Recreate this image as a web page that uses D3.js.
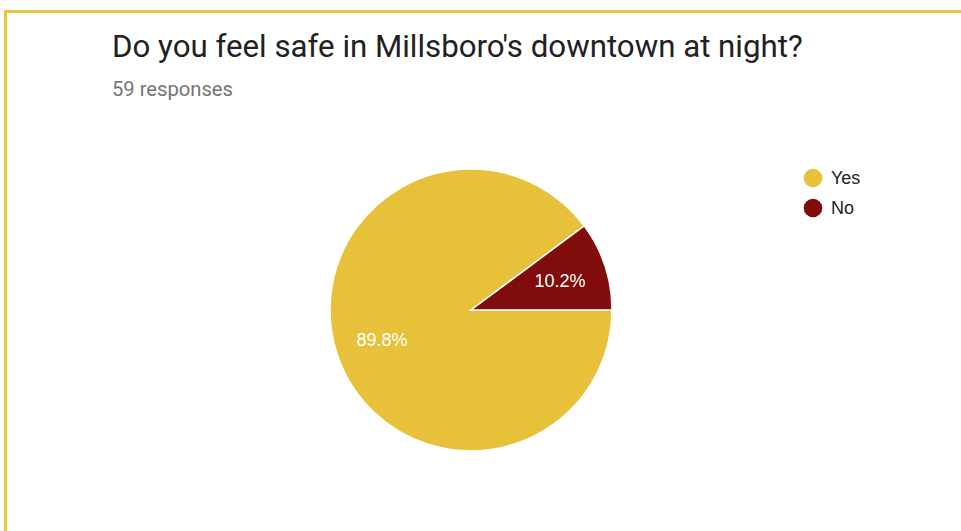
<!DOCTYPE html>
<html><head><meta charset="utf-8">
<script src="https://cdn.jsdelivr.net/npm/d3@7"></script>
<style>html,body{margin:0;padding:0;background:#fff;} svg{display:block;}</style>
</head><body>
<script>
const categories = ["Yes", "No"];
const values = [53, 6];
const colors = ["#e8c13a", "#800c0c"];
const title = "Do you feel safe in Millsboro's downtown at night?";
const subtitle = "59 responses";

const W = 961, H = 531;
const svg = d3.select("body").append("svg").attr("width", W).attr("height", H);
svg.append("rect").attr("width", W).attr("height", H).attr("fill", "#fff");

// yellow frame (top and left visible)
svg.append("rect").attr("x", 5.5).attr("y", 11.5).attr("width", W + 20).attr("height", H + 20)
  .attr("fill", "none").attr("stroke", "#edc43e").attr("stroke-width", 3);

const t = svg.append("text").attr("x", 112).attr("y", 57)
  .attr("font-family", "Roboto, sans-serif").attr("font-size", 27).attr("fill", "#212121").text(title);
const tw = t.node().getComputedTextLength();
t.attr("font-size", 27 * 691 / tw);

const s = svg.append("text").attr("x", 112).attr("y", 96)
  .attr("font-family", "Roboto, sans-serif").attr("font-size", 18).attr("fill", "#757575").text(subtitle);
const sw = s.node().getComputedTextLength();
s.attr("font-size", 18 * 121 / sw);

const cx = 471, cy = 310, R = 141;
const total = d3.sum(values);
const pie = d3.pie().sort(null).startAngle(Math.PI / 2).endAngle(Math.PI / 2 + 2 * Math.PI)
  .value(d => d.v);
const arcs = pie(categories.map((c, i) => ({c, v: values[i], col: colors[i]})));
const arc = d3.arc().innerRadius(0).outerRadius(R);
const labelArc = d3.arc().innerRadius(R * 0.665).outerRadius(R * 0.665);
const g = svg.append("g").attr("transform", `translate(${cx},${cy})`);
g.selectAll("path").data(arcs).join("path")
  .attr("d", arc).attr("fill", d => d.data.col)
  .attr("stroke", "#fff").attr("stroke-width", 1.5);
g.selectAll("text").data(arcs).join("text")
  .attr("transform", d => `translate(${labelArc.centroid(d)})`)
  .attr("text-anchor", "middle").attr("dy", "0.36em")
  .attr("font-family", "Arial, 'Liberation Sans', sans-serif").attr("font-size", 18)
  .attr("fill", "#fff")
  .text(d => (d.data.v / total * 100).toFixed(1) + "%");

const leg = svg.append("g");
categories.forEach((c, i) => {
  const y = 178 + i * 30;
  leg.append("circle").attr("cx", 813).attr("cy", y).attr("r", 9.3).attr("fill", colors[i]);
  leg.append("text").attr("x", 831).attr("y", y).attr("dy", "0.36em")
    .attr("font-family", "Arial, 'Liberation Sans', sans-serif").attr("font-size", 18)
    .attr("fill", "#222").text(c);
});
</script>
</body></html>
